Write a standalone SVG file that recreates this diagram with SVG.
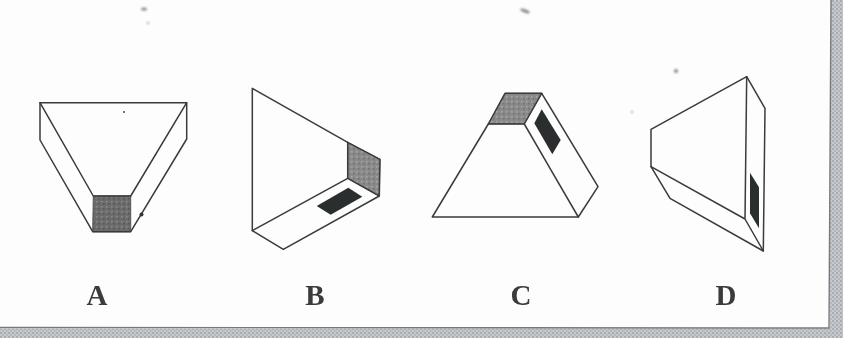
<svg xmlns="http://www.w3.org/2000/svg" width="843" height="338" viewBox="0 0 843 338">
<style>
.o{fill:none;stroke:#3a3a3a;stroke-width:1.5;stroke-linejoin:round;stroke-linecap:round}
.g{fill:url(#grain);stroke:#555;stroke-width:1}
.g2{fill:url(#grainLight);stroke:#666;stroke-width:.8}
.d{fill:#2b2f2d;stroke:none}
.t{font-family:"Liberation Serif",serif;font-weight:bold;font-size:29px;fill:#3a3a3a;text-anchor:middle}
.s{fill:#8a8a8a}
</style>
<defs>
<filter id="soft" x="-5%" y="-5%" width="110%" height="110%"><feGaussianBlur stdDeviation="0.45"/></filter>
<filter id="speck" x="-50%" y="-50%" width="200%" height="200%"><feGaussianBlur stdDeviation="0.8"/></filter>
<pattern id="halftone" width="4" height="4" patternUnits="userSpaceOnUse">
<rect width="4" height="4" fill="#c6c9cc"/><rect width="2" height="2" fill="#a9adb1"/><rect x="2" y="2" width="2" height="2" fill="#b4b7bb"/>
</pattern>
<pattern id="grain" width="5" height="5" patternUnits="userSpaceOnUse">
<rect width="5" height="5" fill="#6c6c6c"/><rect x="1" y="1" width="1.5" height="1.5" fill="#8b8b8b"/><rect x="3" y="3" width="1.5" height="1.5" fill="#555"/>
</pattern>
<pattern id="grainLight" width="5" height="5" patternUnits="userSpaceOnUse">
<rect width="5" height="5" fill="#8a8a8a"/><rect x="1" y="1" width="1.5" height="1.5" fill="#a8a8a8"/><rect x="3" y="3" width="1.5" height="1.5" fill="#707070"/>
</pattern>
</defs>
<rect width="843" height="338" fill="#fdfdfd"/>
<g id="frame">
<path d="M831 0H843V338H0V328.5H829.5Z" fill="url(#halftone)"/>
<path d="M831 0L829 328L0 327.5" fill="none" stroke="#77797c" stroke-width="1.4"/>
</g>
<g id="specks" filter="url(#speck)">
<ellipse class="s" cx="144" cy="9" rx="3" ry="1.5"/><circle class="s" cx="148" cy="23" r="1"/>
<ellipse class="s" cx="525" cy="11" rx="5" ry="1.6" transform="rotate(20 525 11)"/>
<circle class="s" cx="676" cy="71" r="2"/><circle class="s" cx="632" cy="112" r="1"/>
</g>
<g filter="url(#soft)">
<g id="node-a">
<path class="g" d="M93.300 196H130.700V231.700H92.700Z"/>
<path class="o" d="M40 102.700H186.700V139L130.700 231.700H92.700L40 140Z"/>
<path class="o" d="M40 102.700L93.300 196H130.700L186.700 102.700"/>
<circle cx="124" cy="112" r="1" fill="#444"/><circle cx="141.500" cy="214.500" r="2" fill="#333"/>
</g>
<g id="node-b">
<path class="g2" d="M347.700 142.300L380 159.300L379.300 196L347.700 178.300Z"/>
<path class="o" d="M252.300 88.300V230.700L283.300 249.300L379.300 196L380 159.300L347.700 142.300Z"/>
<path class="o" d="M252.300 230.700L347.700 178.300L379.300 196M347.700 142.300V178.300"/>
<path class="d" d="M316.700 206L348.300 187.700L362.300 196.700L330.700 214.700Z"/>
</g>
<g id="node-c">
<path class="g2" d="M505 93.300H541.700L524.300 124H488.300Z"/>
<path class="o" d="M505 93.300H541.700L598 186.700L578.300 217H432.300L488.300 124Z"/>
<path class="o" d="M488.300 124H524.300L578.300 217M524.300 124L541.700 93.300"/>
<path class="d" d="M541.700 109.300L560.700 140L552.300 154.300L534.300 123.300Z"/>
</g>
<g id="node-d">
<path class="o" d="M746.700 76.700L765 108.300L763.300 251L670 198.300L651 166.700V129.300Z"/>
<path class="o" d="M651 166.700L745 219L763.300 251M746.700 76.700L745 219"/>
<path class="d" d="M750 172.700L759 187.300V228.300L750 213.300Z"/>
</g>
<g id="labels">
<text class="t" x="97" y="305">A</text>
<text class="t" x="315" y="305">B</text>
<text class="t" x="521" y="305">C</text>
<text class="t" x="726" y="305">D</text>
</g>
</g>
</svg>
